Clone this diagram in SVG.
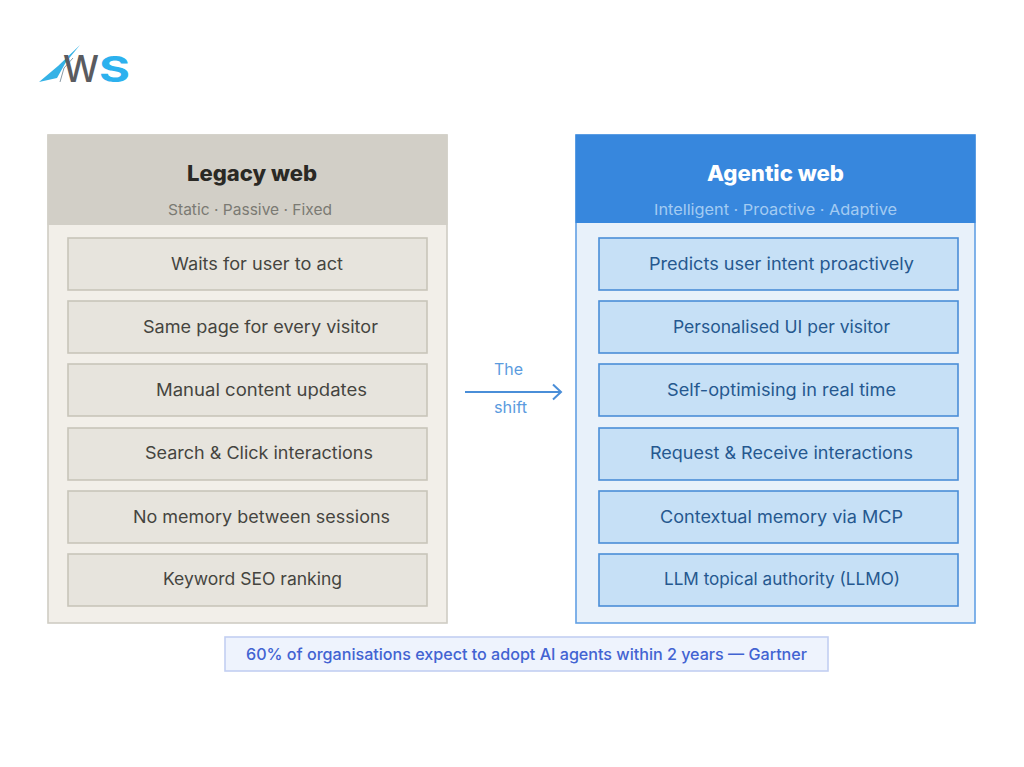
<svg xmlns="http://www.w3.org/2000/svg" width="1024" height="767" viewBox="0 0 1024 767">
<style>
text{font-family:"Inter","Noto Sans","Liberation Sans",sans-serif;text-anchor:start}
.title{font-size:21px;font-weight:800}
.sub{font-size:15px}
.it{font-size:17px;font-weight:400}
.li{fill:#e7e4dd;stroke:#c8c5ba;stroke-width:1.6}
.ri{fill:#c6e0f6;stroke:#4a8ed8;stroke-width:1.6}
.lt{fill:#45443f}
.rt{fill:#25588f}
</style>
<defs>
<marker id="arrow" markerWidth="14" markerHeight="18" refX="11" refY="9" orient="auto" markerUnits="userSpaceOnUse"><path d="M3 1.5 L11 9 L3 16.5" fill="none" stroke="#4a8ed8" stroke-width="2"/></marker>
</defs>
<rect width="1024" height="767" fill="#fff"/>
<g id="logo">
<polygon points="39,82 58,66 80,45 66,62 57,78" fill="#35b2e6"/>
<polyline points="60,82 64,68 73,58" fill="none" stroke="#8a9aa6" stroke-width="1"/>
<text x="63" y="82" font-size="37" font-weight="500" fill="#5a5b60" textLength="36" lengthAdjust="spacingAndGlyphs">W</text>
<text x="99" y="82" font-size="35" font-weight="700" fill="#2cb1ee" textLength="31" lengthAdjust="spacingAndGlyphs">S</text>
</g>
<g id="legacy">
<rect x="48" y="135" width="399" height="488" fill="#f2efe9" stroke="#cfccc3" stroke-width="1.6"/>
<rect x="47.5" y="134.5" width="400" height="90.5" fill="#d2cfc7"/>
<text class="title" x="187" y="181" fill="#2a2925" textLength="130" lengthAdjust="spacingAndGlyphs">Legacy web</text>
<text class="sub" x="168" y="215" fill="#7b7a73" textLength="164" lengthAdjust="spacingAndGlyphs">Static · Passive · Fixed</text>
</g>
<g id="legacy-1"><rect class="li" x="68" y="238" width="359" height="52"/><text class="it lt" x="171" y="270" textLength="172" lengthAdjust="spacingAndGlyphs">Waits for user to act</text></g>
<g id="legacy-2"><rect class="li" x="68" y="301" width="359" height="52"/><text class="it lt" x="143" y="333" textLength="235" lengthAdjust="spacingAndGlyphs">Same page for every visitor</text></g>
<g id="legacy-3"><rect class="li" x="68" y="364" width="359" height="52"/><text class="it lt" x="156" y="396" textLength="211" lengthAdjust="spacingAndGlyphs">Manual content updates</text></g>
<g id="legacy-4"><rect class="li" x="68" y="428" width="359" height="52"/><text class="it lt" x="145" y="459" textLength="228" lengthAdjust="spacingAndGlyphs">Search &amp; Click interactions</text></g>
<g id="legacy-5"><rect class="li" x="68" y="491" width="359" height="52"/><text class="it lt" x="133" y="523" textLength="257" lengthAdjust="spacingAndGlyphs">No memory between sessions</text></g>
<g id="legacy-6"><rect class="li" x="68" y="554" width="359" height="52"/><text class="it lt" x="163" y="585" textLength="179" lengthAdjust="spacingAndGlyphs">Keyword SEO ranking</text></g>
<g id="agentic">
<rect x="576" y="135" width="399" height="488" fill="#e8f1fa" stroke="#62a0e4" stroke-width="1.6"/>
<rect x="575.5" y="134.5" width="400" height="88.5" fill="#3787dd"/>
<text class="title" x="707" y="181" fill="#fff" textLength="137" lengthAdjust="spacingAndGlyphs">Agentic web</text>
<text class="sub" x="654" y="215" fill="#a3cbf2" textLength="243" lengthAdjust="spacingAndGlyphs">Intelligent · Proactive · Adaptive</text>
</g>
<g id="agentic-1"><rect class="ri" x="599" y="238" width="359" height="52"/><text class="it rt" x="649" y="270" textLength="265" lengthAdjust="spacingAndGlyphs">Predicts user intent proactively</text></g>
<g id="agentic-2"><rect class="ri" x="599" y="301" width="359" height="52"/><text class="it rt" x="673" y="333" textLength="217" lengthAdjust="spacingAndGlyphs">Personalised UI per visitor</text></g>
<g id="agentic-3"><rect class="ri" x="599" y="364" width="359" height="52"/><text class="it rt" x="667" y="396" textLength="229" lengthAdjust="spacingAndGlyphs">Self-optimising in real time</text></g>
<g id="agentic-4"><rect class="ri" x="599" y="428" width="359" height="52"/><text class="it rt" x="650" y="459" textLength="263" lengthAdjust="spacingAndGlyphs">Request &amp; Receive interactions</text></g>
<g id="agentic-5"><rect class="ri" x="599" y="491" width="359" height="52"/><text class="it rt" x="660" y="523" textLength="243" lengthAdjust="spacingAndGlyphs">Contextual memory via MCP</text></g>
<g id="agentic-6"><rect class="ri" x="599" y="554" width="359" height="52"/><text class="it rt" x="664" y="585" textLength="236" lengthAdjust="spacingAndGlyphs">LLM topical authority (LLMO)</text></g>
<g id="connectors">
<line x1="465" y1="392" x2="561" y2="392" stroke="#4a8ed8" stroke-width="2" marker-end="url(#arrow)"/>
</g>
<g id="shift-label">
<text x="494" y="375" font-size="16" fill="#5b9bde" textLength="29" lengthAdjust="spacingAndGlyphs">The</text>
<text x="494" y="413" font-size="16" fill="#5b9bde" textLength="33" lengthAdjust="spacingAndGlyphs">shift</text>
</g>
<g id="footer">
<rect x="225" y="637" width="603" height="34" fill="#eef3fd" stroke="#c2cff2" stroke-width="1.6"/>
<text x="246" y="660" font-size="16" font-weight="500" fill="#4263d2" textLength="561" lengthAdjust="spacingAndGlyphs">60% of organisations expect to adopt AI agents within 2 years — Gartner</text>
</g>
</svg>
